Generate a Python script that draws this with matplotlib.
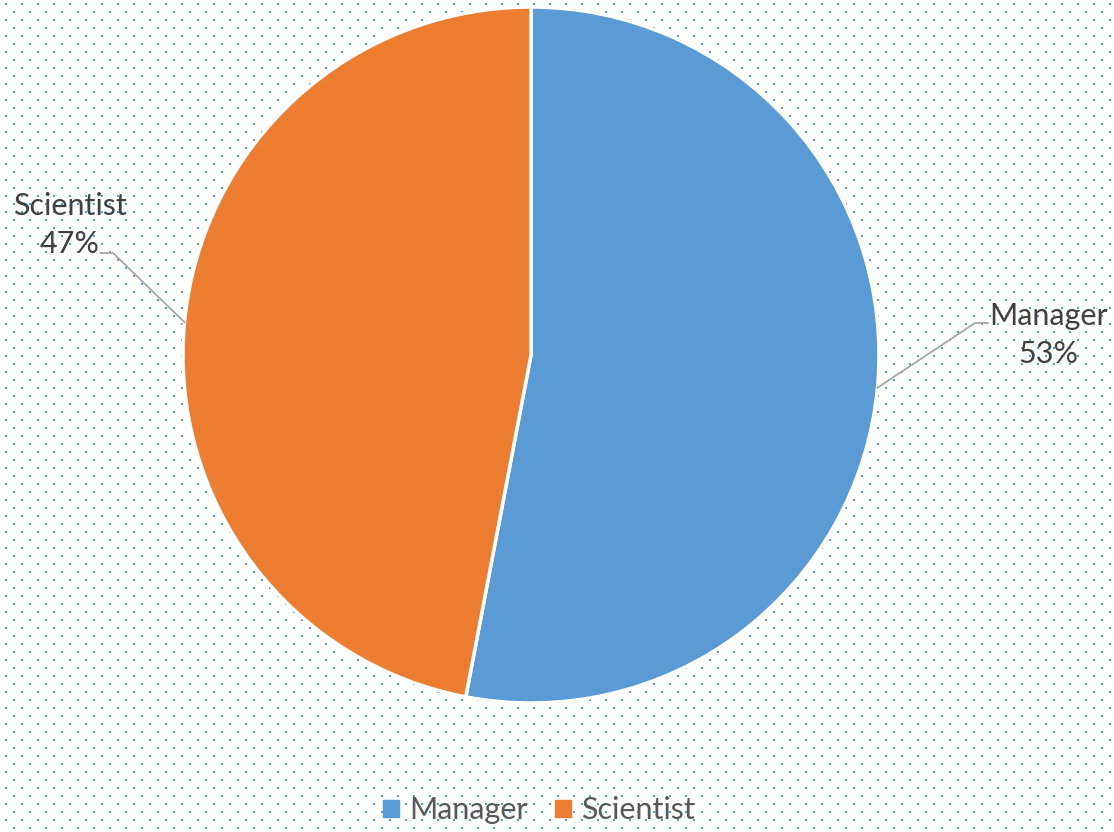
import numpy as np
import matplotlib
matplotlib.use("Agg")
import matplotlib.pyplot as plt

# Data
labels = ['Manager', 'Scientist']
shares = [53, 47]
colors = ['#5B9BD5', '#ED7D31']

W, H = 1114, 832
fig = plt.figure(figsize=(W / 100, H / 100), dpi=100)

# dotted background
bg = np.ones((H, W, 3))
dot = np.array([0x5B, 0x9B, 0xD5]) / 255
for y0, x0 in [(3, 5), (11, 13)]:
    for y in range(y0, H, 16):
        for x in range(x0, W, 16):
            bg[y:y + 2, x:x + 2] = dot
bax = fig.add_axes([0, 0, 1, 1])
bax.imshow(bg, interpolation='nearest', aspect='auto')
bax.axis('off')

# pie axes: center (531, 355), radius 348 px
cx, cy, r = 531, 355, 348
ax = fig.add_axes([(cx - r) / W, (H - cy - r) / H, 2 * r / W, 2 * r / H])
wedges, _ = ax.pie(shares, colors=colors, startangle=90, counterclock=False,
                   wedgeprops=dict(edgecolor='white', linewidth=2.5))
ax.set_xlim(-1, 1)
ax.set_ylim(-1, 1)
ax.axis('off')

# data labels with leader lines
elbows = {'Manager': (1.276, 0.092, 1.313), 'Scientist': (-1.201, 0.293, -1.236)}
text_pos = {'Manager': (1.486, 0.057), 'Scientist': (-1.325, 0.374)}
for w, lab, s in zip(wedges, labels, shares):
    mid = np.deg2rad((w.theta1 + w.theta2) / 2)
    x0, y0 = np.cos(mid), np.sin(mid)
    ex, ey, hx = elbows[lab]
    ax.plot([x0, ex, hx], [y0, ey, ey], color='#A6A6A6', lw=1.3, clip_on=False)
    tx, ty = text_pos[lab]
    ax.text(tx, ty, f'{lab}\n{s}%', ha='center', va='center', fontsize=22,
            family='Lato', color='#404040', linespacing=1.45)

handles = [plt.Rectangle((0, 0), 1, 1, color=c) for c in colors]
leg = fig.legend(handles, labels, loc='lower center', ncol=2, frameon=False,
                 bbox_to_anchor=(0.484, -0.024), prop={'family': 'Lato', 'size': 22},
                 handlelength=0.5, handleheight=0.5, handletextpad=0.35, columnspacing=0.9)
for t in leg.get_texts():
    t.set_color('#595959')

fig.savefig('out.png', dpi=100)
